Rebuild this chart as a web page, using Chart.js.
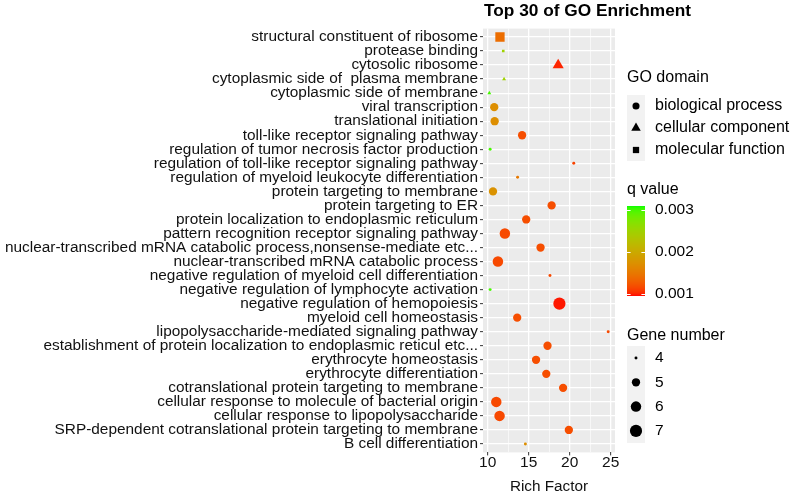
<!DOCTYPE html>
<html>
<head>
<meta charset="utf-8">
<script src="https://cdn.jsdelivr.net/npm/chart.js@4.4.0/dist/chart.umd.min.js"></script>
<style>
  html, body { margin: 0; padding: 0; background: #ffffff; }
  #wrap { width: 792px; height: 496px; }
</style>
</head>
<body>
<div id="wrap"><canvas id="goChart" width="792" height="496"></canvas></div>
<script>
// GO terms, top to bottom
var terms = [
    'structural constituent of ribosome',
    'protease binding',
    'cytosolic ribosome',
    'cytoplasmic side of  plasma membrane',
    'cytoplasmic side of membrane',
    'viral transcription',
    'translational initiation',
    'toll-like receptor signaling pathway',
    'regulation of tumor necrosis factor production',
    'regulation of toll-like receptor signaling pathway',
    'regulation of myeloid leukocyte differentiation',
    'protein targeting to membrane',
    'protein targeting to ER',
    'protein localization to endoplasmic reticulum',
    'pattern recognition receptor signaling pathway',
    'nuclear-transcribed mRNA catabolic process,nonsense-mediate etc...',
    'nuclear-transcribed mRNA catabolic process',
    'negative regulation of myeloid cell differentiation',
    'negative regulation of lymphocyte activation',
    'negative regulation of hemopoiesis',
    'myeloid cell homeostasis',
    'lipopolysaccharide-mediated signaling pathway',
    'establishment of protein localization to endoplasmic reticul etc...',
    'erythrocyte homeostasis',
    'erythrocyte differentiation',
    'cotranslational protein targeting to membrane',
    'cellular response to molecule of bacterial origin',
    'cellular response to lipopolysaccharide',
    'SRP-dependent cotranslational protein targeting to membrane',
    'B cell differentiation'
];

var richFactor = [11.5, 11.9, 18.6, 12.0, 10.2, 10.8, 10.85, 14.2, 10.3, 20.5,
                  13.65, 10.65, 17.8, 14.7, 12.1, 16.45, 11.25, 17.6, 10.3, 18.75,
                  13.6, 24.7, 17.3, 15.9, 17.15, 19.2, 11.05, 11.45, 19.9, 14.6];

var geneNumber = [6, 4, 5, 4, 4, 5, 5, 5, 4, 4,
                  4, 5, 5, 5, 6, 5, 6, 4, 4, 7,
                  5, 4, 5, 5, 5, 5, 6, 6, 5, 4];

var qValue = [0.0014, 0.0025, 0.00100, 0.0025, 0.0030, 0.0017, 0.0017, 0.00118, 0.0030, 0.00112,
              0.0015, 0.00175, 0.00118, 0.00118, 0.00115, 0.00118, 0.00115, 0.00115, 0.0030, 0.00097,
              0.00118, 0.00115, 0.00118, 0.00118, 0.00118, 0.00118, 0.00115, 0.00115, 0.00118, 0.0017];

var goDomain = ['MF', 'MF', 'CC', 'CC', 'CC', 'BP', 'BP', 'BP', 'BP', 'BP',
                'BP', 'BP', 'BP', 'BP', 'BP', 'BP', 'BP', 'BP', 'BP', 'BP',
                'BP', 'BP', 'BP', 'BP', 'BP', 'BP', 'BP', 'BP', 'BP', 'BP'];

var xMajorTicks = [10, 15, 20, 25];
var domainNames = ['biological process', 'cellular component', 'molecular function'];
var domainCodes = ['BP', 'CC', 'MF'];
var qTicks = [0.001, 0.002, 0.003];
var geneTicks = [4, 5, 6, 7];

var FONT = "'Liberation Sans', Arial, sans-serif";
var Q_LOW = 0.00094, Q_HIGH = 0.0031;
var styleOf = { BP: 'circle', CC: 'triangle', MF: 'rect' };

// red -> green in Lab, like ggplot's gradient
function labToRgb(L, a, b) {
    var fy = (L + 16) / 116, fx = fy + a / 500, fz = fy - b / 200;
    function finv(t) { var t3 = t * t * t; return t3 > 0.008856 ? t3 : (t - 16 / 116) / 7.787; }
    var X = 0.95047 * finv(fx), Y = finv(fy), Z = 1.08883 * finv(fz);
    var r = 3.2406 * X - 1.5372 * Y - 0.4986 * Z;
    var g = -0.9689 * X + 1.8758 * Y + 0.0415 * Z;
    var bl = 0.0557 * X - 0.2040 * Y + 1.0570 * Z;
    function gam(c) {
        c = c <= 0.0031308 ? 12.92 * c : 1.055 * Math.pow(c, 1 / 2.4) - 0.055;
        return Math.round(Math.max(0, Math.min(1, c)) * 255);
    }
    return 'rgb(' + gam(r) + ',' + gam(g) + ',' + gam(bl) + ')';
}
function qColor(q) {
    var t = (q - Q_LOW) / (Q_HIGH - Q_LOW);
    t = Math.max(0, Math.min(1, t));
    return labToRgb(53.24 + (87.73 - 53.24) * t, 80.09 + (-86.18 - 80.09) * t, 67.20 + (83.18 - 67.20) * t);
}
// circle radius for a gene count (area scale)
function geneRadius(g) {
    var size = 1 + 5 * Math.sqrt((g - 4) / 3);
    return 1.846 * (size + 0.6) / 2;
}
function markRadius(g, dom) {
    var r = geneRadius(g);
    if (dom === 'MF') return r * 1.253;
    if (dom === 'CC') return r * 1.549;
    return r;
}

var points = richFactor.map(function (v, i) { return { x: v, y: i }; });

var extras = {
    id: 'extras',
    beforeDraw: function (chart) {
        var a = chart.chartArea, ctx = chart.ctx;
        ctx.save();
        ctx.fillStyle = '#ffffff';
        ctx.fillRect(0, 0, chart.width, chart.height);
        ctx.fillStyle = '#EBEBEB';
        ctx.fillRect(a.left, a.top, a.right - a.left, a.bottom - a.top);
        ctx.restore();
    },
    afterDraw: function (chart) {
        var ctx = chart.ctx, a = chart.chartArea;
        ctx.save();
        // title
        ctx.fillStyle = '#000';
        ctx.textBaseline = 'middle';
        ctx.textAlign = 'left';
        ctx.font = 'bold 17.3px ' + FONT;
        ctx.fillText('Top 30 of GO Enrichment', a.left + 1, 11);

        var lx = 627, kw = 18, tx = 655;

        // GO domain
        ctx.font = '16px ' + FONT;
        ctx.fillText('GO domain', lx, 78);
        ctx.fillStyle = '#F2F2F2';
        ctx.fillRect(lx, 95, kw, 66);
        domainCodes.forEach(function (c, i) {
            var y = 106 + i * 22;
            ctx.fillStyle = '#000';
            Chart.helpers.drawPoint(ctx, { pointStyle: styleOf[c], radius: markRadius(4.6, c), rotation: 0, borderWidth: 0 }, lx + kw / 2, y);
            ctx.font = '16px ' + FONT;
            ctx.fillText(domainNames[i], tx, y);
        });

        // q value colour bar
        ctx.fillStyle = '#000';
        ctx.font = '16px ' + FONT;
        ctx.fillText('q value', lx, 190);
        var bTop = 206, bBot = 296;
        function qY(q) { return bBot - (q - Q_LOW) / (Q_HIGH - Q_LOW) * (bBot - bTop); }
        for (var y = bTop; y < bBot; y++) {
            var q = Q_LOW + (bBot - y - 0.5) / (bBot - bTop) * (Q_HIGH - Q_LOW);
            ctx.fillStyle = qColor(q);
            ctx.fillRect(lx, y, kw, 1);
        }
        ctx.strokeStyle = '#ffffff';
        ctx.lineWidth = 1;
        qTicks.forEach(function (q) {
            var y = Math.round(qY(q)) + 0.5;
            ctx.beginPath();
            ctx.moveTo(lx, y); ctx.lineTo(lx + 3.6, y);
            ctx.moveTo(lx + kw - 3.6, y); ctx.lineTo(lx + kw, y);
            ctx.stroke();
            ctx.fillStyle = '#000';
            ctx.font = '15.5px ' + FONT;
            ctx.fillText(q.toFixed(3), tx, qY(q));
        });

        // Gene number
        ctx.fillStyle = '#000';
        ctx.font = '16px ' + FONT;
        ctx.fillText('Gene number', lx, 336);
        ctx.fillStyle = '#F2F2F2';
        ctx.fillRect(lx, 346, kw, 97);
        geneTicks.forEach(function (g, i) {
            var y = 358 + i * 24.3;
            ctx.fillStyle = '#000';
            Chart.helpers.drawPoint(ctx, { pointStyle: 'circle', radius: geneRadius(g), rotation: 0, borderWidth: 0 }, lx + kw / 2, y);
            ctx.font = '15.5px ' + FONT;
            ctx.fillText(String(g), tx, y);
        });
        ctx.restore();
    }
};

new Chart(document.getElementById('goChart').getContext('2d'), {
    type: 'scatter',
    data: {
        datasets: [{
            label: 'GO terms',
            data: points,
            pointStyle: function (c) { return styleOf[goDomain[c.dataIndex]]; },
            pointRadius: function (c) { return markRadius(geneNumber[c.dataIndex], goDomain[c.dataIndex]); },
            pointHoverRadius: function (c) { return markRadius(geneNumber[c.dataIndex], goDomain[c.dataIndex]); },
            backgroundColor: function (c) { return qColor(qValue[c.dataIndex]); },
            borderWidth: 0
        }]
    },
    options: {
        responsive: false,
        animation: false,
        devicePixelRatio: 1,
        layout: { padding: { top: 28.6, right: 177, bottom: 0, left: 0 } },
        plugins: { legend: { display: false }, tooltip: { enabled: false }, title: { display: false } },
        scales: {
            x: {
                type: 'linear',
                min: 9.43,
                max: 25.53,
                afterFit: function (s) { s.height = 43.6; },
                border: { display: false },
                grid: {
                    color: '#ffffff',
                    lineWidth: function (c) { return xMajorTicks.indexOf(c.tick && c.tick.value) >= 0 ? 1.3 : 0.6; },
                    tickColor: function (c) { return xMajorTicks.indexOf(c.tick && c.tick.value) >= 0 ? '#333333' : 'rgba(0,0,0,0)'; },
                    tickLength: 3,
                    tickWidth: 1
                },
                ticks: {
                    stepSize: 2.5,
                    includeBounds: false,
                    autoSkip: false,
                    maxRotation: 0,
                    padding: 0,
                    color: '#111',
                    font: { family: FONT, size: 15.5, lineHeight: 1 },
                    callback: function (v) { return xMajorTicks.indexOf(v) >= 0 ? String(v) : ''; }
                },
                title: {
                    display: true,
                    text: 'Rich Factor',
                    color: '#111',
                    font: { family: FONT, size: 15.3, lineHeight: 1.2 },
                    padding: { top: 0, bottom: 0 }
                }
            },
            y: {
                type: 'linear',
                reverse: true,
                min: -0.6,
                max: 29.6,
                afterFit: function (s) { s.width = 483; },
                border: { display: false },
                grid: { color: '#ffffff', lineWidth: 1.3, tickColor: '#333333', tickLength: 3, tickWidth: 1 },
                ticks: {
                    stepSize: 1,
                    includeBounds: false,
                    autoSkip: false,
                    padding: 2,
                    color: '#111',
                    font: { family: FONT, size: 15.4, lineHeight: 1 },
                    callback: function (v) { return terms[v]; }
                }
            }
        }
    },
    plugins: [extras]
});
</script>
</body>
</html>
